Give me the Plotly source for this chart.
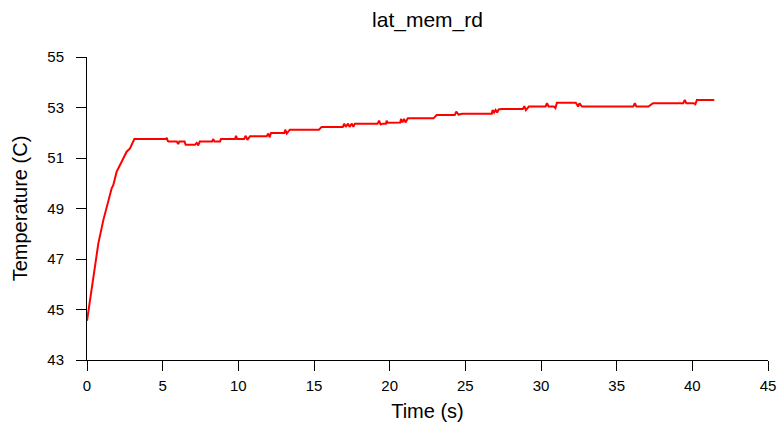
import plotly.graph_objects as go

time_s = [0, 0.31, 0.53, 0.75, 1.08, 1.41, 1.63, 1.74, 1.96, 2.29, 2.62, 2.84, 3.13,
          5.2, 5.27, 5.33, 5.4, 5.93, 6.03, 6.1, 6.45, 6.52, 7.13, 7.25, 7.35, 7.45,
          8.26, 8.35, 8.42, 8.79, 8.85, 9.78, 9.85, 9.92, 10.38, 10.49, 10.6, 10.77,
          11.87, 11.98, 12.06, 12.16, 13.04, 13.1, 13.2, 13.4, 15.33, 15.5, 16.9,
          17.0, 17.1, 17.25, 17.35, 17.5, 17.6, 17.7, 19.2, 19.3, 19.4, 19.55, 19.75,
          19.8, 19.87, 20.7, 20.75, 20.85, 20.95, 21.05, 21.2, 22.9, 23.1, 24.3, 24.4,
          24.55, 24.8, 26.75, 26.8, 26.9, 27.0, 27.1, 27.2, 27.4, 28.8, 28.9, 29.0,
          29.2, 30.3, 30.4, 30.5, 30.85, 30.95, 31.05, 32.3, 32.45, 32.55, 32.7, 36.1,
          36.2, 36.3, 37.1, 37.4, 39.4, 39.5, 39.6, 40.1, 40.2, 40.3, 40.5, 41.45]
temp_c = [44.55, 45.77, 46.83, 47.62, 48.54, 49.34, 49.8, 49.93, 50.46, 50.85, 51.25, 51.38, 51.75,
          51.75, 51.8, 51.68, 51.65, 51.65, 51.55, 51.65, 51.65, 51.52, 51.52, 51.6, 51.5, 51.65,
          51.65, 51.75, 51.65, 51.65, 51.75, 51.75, 51.88, 51.75, 51.75, 51.88, 51.72, 51.86,
          51.86, 51.97, 51.82, 51.99, 51.99, 52.12, 51.97, 52.12, 52.12, 52.23, 52.23,
          52.36, 52.23, 52.36, 52.23, 52.36, 52.23, 52.36, 52.36, 52.48, 52.33, 52.36, 52.36,
          52.48, 52.4, 52.41, 52.55, 52.41, 52.55, 52.41, 52.57, 52.57, 52.7, 52.7, 52.84,
          52.72, 52.75, 52.75, 52.9, 52.8, 52.9, 52.8, 52.92, 52.94, 52.94, 53.05, 52.9,
          53.04, 53.04, 53.17, 53.04, 53.04, 52.98, 53.19, 53.19, 53.04, 53.17, 53.04, 53.04,
          53.17, 53.04, 53.04, 53.17, 53.17, 53.3, 53.17, 53.17, 53.13, 53.3, 53.3, 53.3]

x_ticks = [0, 5, 10, 15, 20, 25, 30, 35, 40, 45]
y_ticks = [43, 45, 47, 49, 51, 53, 55]

FONT = "Liberation Sans, Arial, sans-serif"

fig = go.Figure()
fig.add_trace(go.Scatter(x=time_s, y=temp_c, mode="lines",
                         line=dict(color="#ff0000", width=2), showlegend=False))

axis_common = dict(showline=True, linecolor="black", linewidth=1, ticks="outside",
                   ticklen=10, tickcolor="black", tickwidth=1, showgrid=False,
                   zeroline=False, automargin=False,
                   tickfont=dict(family=FONT, size=15, color="black"))

fig.update_layout(
    width=780, height=430,
    margin=dict(l=87, r=12, t=57, b=70, pad=0),
    paper_bgcolor="white", plot_bgcolor="white",
    title=dict(text="lat_mem_rd", x=(87 + 768) / 2 / 780, xanchor="center",
               y=1 - 20 / 430, yanchor="middle", yref="container",
               font=dict(family=FONT, size=21, color="black")),
    xaxis=dict(range=[0, 45], tickvals=x_ticks, ticktext=[str(v) for v in x_ticks],
               ticklabelstandoff=2,
               title=dict(text="Time (s)", font=dict(family=FONT, size=20, color="black"),
                          standoff=10),
               **axis_common),
    yaxis=dict(range=[43, 55], tickvals=y_ticks, ticktext=[str(v) for v in y_ticks],
               ticklabelstandoff=9,
               title=dict(text="Temperature (C)", font=dict(family=FONT, size=20, color="black"),
                          standoff=14),
               **axis_common),
)

fig.write_html("out.html")
